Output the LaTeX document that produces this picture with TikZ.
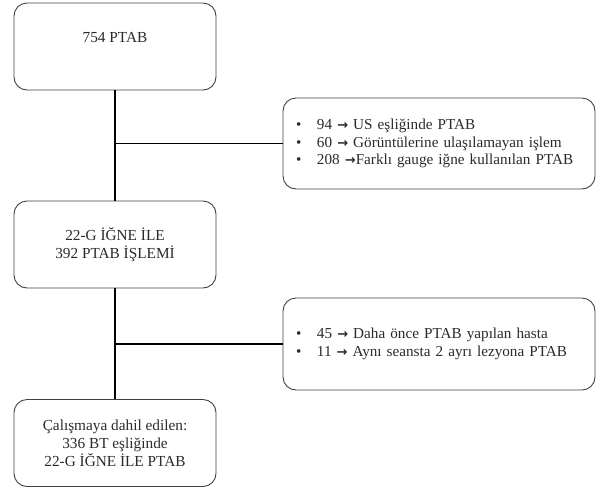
\documentclass[tikz,border=0pt]{standalone}
\usepackage{fontspec}
\setmainfont{Liberation Serif}
\newfontfamily\arrowfont{DejaVu Sans}
\definecolor{boxline}{HTML}{404040}
\definecolor{txt}{HTML}{2A2A2A}
\begin{document}
\begin{tikzpicture}[x=1pt,y=1pt,
  mainbox/.style={draw=boxline,line width=0.9pt,rounded corners=13pt,
    minimum width=202pt,align=center,text=txt,font=\fontsize{15.3}{17.8}\selectfont,inner sep=0pt},
  sidebox/.style={draw=boxline,line width=0.9pt,rounded corners=13pt,
    minimum width=312pt,align=left,text=txt,font=\fontsize{15.2}{17.8}\selectfont,
    text width=286pt,inner xsep=13pt,inner ysep=0pt},
  conn/.style={draw=black,line width=1.6pt}]
\useasboundingbox (0,0) rectangle (596,-488);
\newcommand{\blt}{\makebox[21pt][l]{•}}
\newcommand{\arr}{{\arrowfont\bfseries\fontsize{13}{14}\selectfont →}}
\node[mainbox,minimum height=87pt] (b1) at (115,-46.5) {754 PTAB\\ \mbox{}};
\node[sidebox,minimum height=91pt] (b2) at (439,-143.5) {\blt 94 \arr{} US eşliğinde PTAB\\ \blt 60 \arr{} Görüntülerine ulaşılamayan işlem\\ \blt 208 \arr Farklı gauge iğne kullanılan PTAB};
\node[mainbox,minimum height=87pt] (b3) at (115,-244.5) {22-G İĞNE İLE\\ 392 PTAB İŞLEMİ};
\node[sidebox,minimum height=92pt] (b4) at (439,-344) {\blt 45 \arr{} Daha önce PTAB yapılan hasta\\ \blt 11 \arr{} Aynı seansta 2 ayrı lezyona PTAB};
\node[mainbox,minimum height=87pt] (b5) at (115,-443) {Çalışmaya dahil edilen:\\ 336 BT eşliğinde\\ 22-G İĞNE İLE PTAB};
\coordinate (j1) at (b1.south |- b2.west);
\coordinate (j2) at (b3.south |- b4.west);
\draw[conn] (b1.south) -- (b3.north);
\draw[conn] (b3.south) -- (b5.north);
\draw[conn] (j1) -- (b2.west);
\draw[conn] (j2) -- (b4.west);
\end{tikzpicture}
\end{document}
